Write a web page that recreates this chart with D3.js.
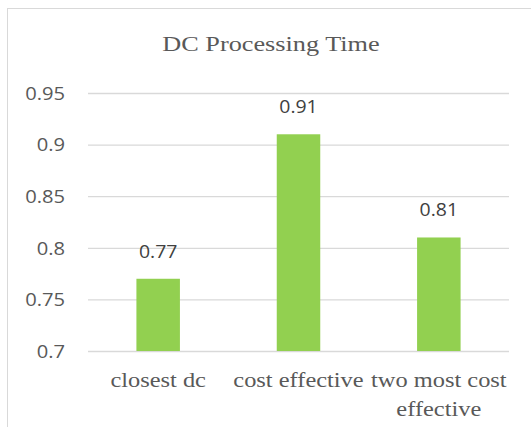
<!DOCTYPE html>
<html>
<head>
<meta charset="utf-8">
<script src="https://cdn.jsdelivr.net/npm/d3@7"></script>
<style>
  html, body { margin: 0; padding: 0; background: #fff; }
  svg { display: block; }
</style>
</head>
<body>
<svg id="chart" width="531" height="427"></svg>
<script>
const title = "DC Processing Time";
const categories = [["closest dc"], ["cost effective"], ["two most cost", "effective"]];
const values = [0.77, 0.91, 0.81];
const valueLabels = ["0.77", "0.91", "0.81"];
const yTicks = [0.7, 0.75, 0.8, 0.85, 0.9, 0.95];
const yTickLabels = ["0.7", "0.75", "0.8", "0.85", "0.9", "0.95"];

(function() {
const svg = d3.select("#chart");
const plotL = 88, plotR = 509, plotT = 93, plotB = 351;
const stretch = 1.22;

// chart frame (right/bottom off-canvas)
svg.append("rect").attr("x", 7.5).attr("y", 8.5).attr("width", 560).attr("height", 460)
  .attr("fill", "#fff").attr("stroke", "#D9D9D9").attr("stroke-width", 1);

const x = d3.scaleBand().domain(d3.range(values.length)).range([plotL, plotR]).paddingInner(0.69).paddingOuter(0.345);
const y = d3.scaleLinear().domain([0.7, 0.95]).range([plotB, plotT]);

function stretchText(sel, k) {
  sel.each(function() {
    const len = this.getComputedTextLength();
    d3.select(this).attr("textLength", len * k).attr("lengthAdjust", "spacingAndGlyphs");
  });
}

// gridlines via axis
const yAxis = d3.axisLeft(y).tickValues(yTicks).tickSize(-(plotR - plotL)).tickFormat((d, i) => yTickLabels[i]).tickPadding(23);
const gy = svg.append("g").attr("transform", `translate(${plotL},0)`).call(yAxis);
gy.select(".domain").remove();
gy.selectAll(".tick line").attr("stroke", "#D9D9D9").attr("stroke-width", 1.3);
gy.selectAll(".tick text").attr("fill", "#595959").attr("font-family", "'Open Sans', sans-serif").attr("font-size", 18).attr("dy", "0.35em")
  .call(stretchText, 1.12);

// bars
svg.append("g").selectAll("rect").data(values).join("rect")
  .attr("x", (d, i) => x(i)).attr("width", x.bandwidth())
  .attr("y", d => y(d)).attr("height", d => y(0.7) - y(d))
  .attr("fill", "#92D050");

// value labels
svg.append("g").selectAll("text").data(values).join("text")
  .attr("x", (d, i) => x(i) + x.bandwidth() / 2)
  .attr("y", d => y(d) - 21)
  .attr("text-anchor", "middle")
  .attr("fill", "#404040").attr("font-family", "'Open Sans', sans-serif").attr("font-size", 18)
  .text((d, i) => valueLabels[i])
  .call(stretchText, 1.08);

// category labels
const cat = svg.append("g").selectAll("text").data(categories).join("text")
  .attr("text-anchor", "middle")
  .attr("fill", "#595959").attr("font-family", "'Liberation Serif', 'Times New Roman', serif").attr("font-size", 20);
cat.each(function(lines, i) {
  const t = d3.select(this);
  lines.forEach((ln, j) => {
    t.append("tspan").attr("x", x(i) + x.bandwidth() / 2).attr("y", 387 + j * 29).text(ln)
      .call(stretchText, stretch);
  });
});

// title
svg.append("text").attr("x", 271).attr("y", 51).attr("text-anchor", "middle")
  .attr("fill", "#595959").attr("font-family", "'Liberation Serif', 'Times New Roman', serif").attr("font-size", 21)
  .text(title).call(stretchText, 1.25);
})();
</script>
</body>
</html>
